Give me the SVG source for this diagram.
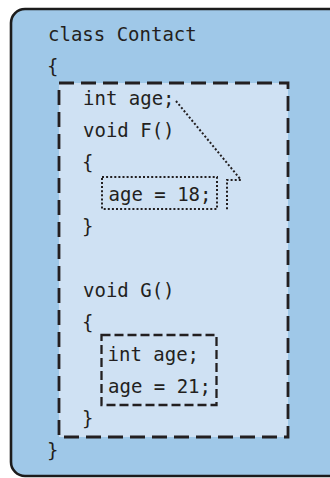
<svg xmlns="http://www.w3.org/2000/svg" width="330" height="478" viewBox="0 0 330 478">
<style>
  .code { font-family: "DejaVu Sans Mono", "Liberation Mono", monospace; font-size: 19px; fill: #231f20; }
  .outer { fill: #9fc8e8; stroke: #1c1c1c; stroke-width: 2.6; }
  .scope { fill: #cfe1f3; stroke: #231f20; stroke-width: 2.8; stroke-dasharray: 15 7; }
  .local { fill: none; stroke: #231f20; stroke-width: 2.3; stroke-dasharray: 9 4; }
  .dotted { fill: none; stroke: #231f20; stroke-width: 2; stroke-dasharray: 2 2.1; }
</style>
<g id="class-contact">
  <rect class="outer" x="11" y="9" width="340" height="467" rx="14"/>
  <text class="code" x="48" y="41">class Contact</text>
  <text class="code" x="47" y="73">{</text>
  <text class="code" x="47" y="457">}</text>
</g>
<g id="class-scope">
  <rect class="scope" x="59" y="83" width="229" height="354"/>
  <text class="code" x="83" y="105">int age;</text>
  <text class="code" x="83" y="137">void F()</text>
  <text class="code" x="82" y="169">{</text>
  <text class="code" x="82" y="233">}</text>
  <text class="code" x="83" y="297">void G()</text>
  <text class="code" x="82" y="329">{</text>
  <text class="code" x="82" y="425">}</text>
</g>
<g id="f-body">
  <rect class="dotted" x="102" y="177" width="115" height="32"/>
  <text class="code" x="108.5" y="201">age = 18;</text>
</g>
<g id="g-body">
  <rect class="local" x="101.5" y="335" width="115" height="70"/>
  <text class="code" x="107.5" y="361">int age;</text>
  <text class="code" x="108" y="393">age = 21;</text>
</g>
<g id="connectors">
  <polyline class="dotted" points="176,101 241,180 227,180 227,210"/>
</g>
</svg>
